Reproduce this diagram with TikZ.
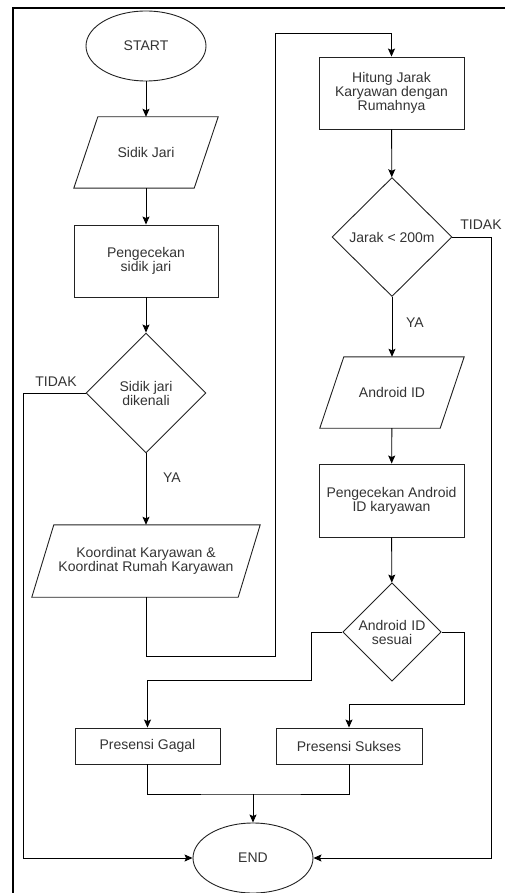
\documentclass[tikz,border=0pt]{standalone}
\usepackage{fontspec}
\setmainfont{Liberation Sans}
\usetikzlibrary{shapes.geometric,arrows.meta,calc}
\definecolor{txt}{HTML}{333333}
\definecolor{ln}{HTML}{222222}
\newcommand\ioshape[2]{\draw[draw=ln,line width=0.9pt] ([xshift=#2]#1.north west) -- ([xshift=#2]#1.north east) -- ([xshift=-#2]#1.south east) -- ([xshift=-#2]#1.south west) -- cycle;}
\begin{document}
\begin{tikzpicture}[x=1pt,y=-1pt,
  every node/.style={font=\fontsize{14}{14}\selectfont, text=txt, align=center},
  box/.style={draw=ln, line width=0.9pt, rectangle, inner sep=1pt},
  term/.style={draw=ln, line width=0.9pt, ellipse, minimum width=120pt, minimum height=70pt, inner sep=0pt},
  dec/.style={draw=ln, line width=0.9pt, diamond, inner sep=0pt, aspect=1},
  iobase/.style={inner sep=0pt, minimum height=71pt},
  conn/.style={line width=0.9pt, draw=black, -{Stealth[length=8pt,width=7pt,inset=1.5pt]}},
  plain/.style={line width=0.9pt, draw=black},
  lbl/.style={text=txt}]
\useasboundingbox (0,0) rectangle (505,893);
\draw[line width=1.5pt, black] (13,893) -- (13,8) -- (505,8);

\node[term] (start) at (146,46) {START};
\node[iobase, minimum width=120pt] (sidik) at (146,152.5) {Sidik Jari};
\ioshape{sidik}{12}
\node[box, minimum width=144pt, minimum height=72pt] (pcek) at (146,261) {Pengecekan\\sidik jari};
\node[dec, minimum width=120pt, minimum height=120pt] (d1) at (146,393) {Sidik jari\\dikenali};
\node[iobase, minimum width=206pt, minimum height=72pt] (koord) at (146,561) {Koordinat Karyawan \&\\Koordinat Rumah Karyawan};
\ioshape{koord}{11}
\node[box, minimum width=145pt, minimum height=72pt] (hitung) at (391.5,93) {Hitung Jarak\\Karyawan dengan\\Rumahnya};
\node[dec, minimum width=120pt, minimum height=119pt] (d2) at (392,237) {Jarak < 200m};
\node[iobase, minimum width=120pt] (aid) at (392,392.5) {Android ID};
\ioshape{aid}{12}
\node[box, minimum width=145pt, minimum height=73pt] (pcekA) at (391.5,500.5) {Pengecekan Android\\ID karyawan};
\node[dec, minimum width=96pt, minimum height=95pt, text width=74pt] (d3) at (392,632) {Android ID\\sesuai};
\node[box, minimum width=145pt, minimum height=36pt] (gagal) at (147.5,746) {Presensi Gagal};
\node[box, minimum width=146pt, minimum height=36pt] (sukses) at (349,746) {Presensi Sukses};
\node[term] (end) at (253,858) {END};

\node[lbl] (tidak1) at (56,382) {TIDAK};
\node[lbl] (ya1) at (172,478) {YA};
\node[lbl] (tidak2) at (481,225) {TIDAK};
\node[lbl] (ya2) at (415,323) {YA};

\coordinate (m) at (253,794);

\draw[conn] (start) -- (sidik);
\draw[conn] (sidik) -- (pcek);
\draw[conn] (pcek) -- (d1);
\draw[conn] (d1) -- (koord);
\draw[conn] (d1.west) -- (23,393) |- (end.west);
\draw[conn] (koord.south) |- (275,656) -- (275,33) -| (hitung.north);
\draw[conn] (hitung) -- (d2);
\draw[conn] (d2.east) -- (491,237) |- (end.east);
\draw[conn] (d2) -- (aid);
\draw[conn] (aid) -- (pcekA);
\draw[conn] (pcekA) -- (d3);
\draw[conn] (d3.west) -| (311,680) -| (gagal.north);
\draw[conn] (d3.east) -| (464,704) -| (sukses.north);
\draw[plain] (gagal.south) |- (m) -| (sukses.south);
\draw[conn] (m) -- (end.north);
\end{tikzpicture}
\end{document}
